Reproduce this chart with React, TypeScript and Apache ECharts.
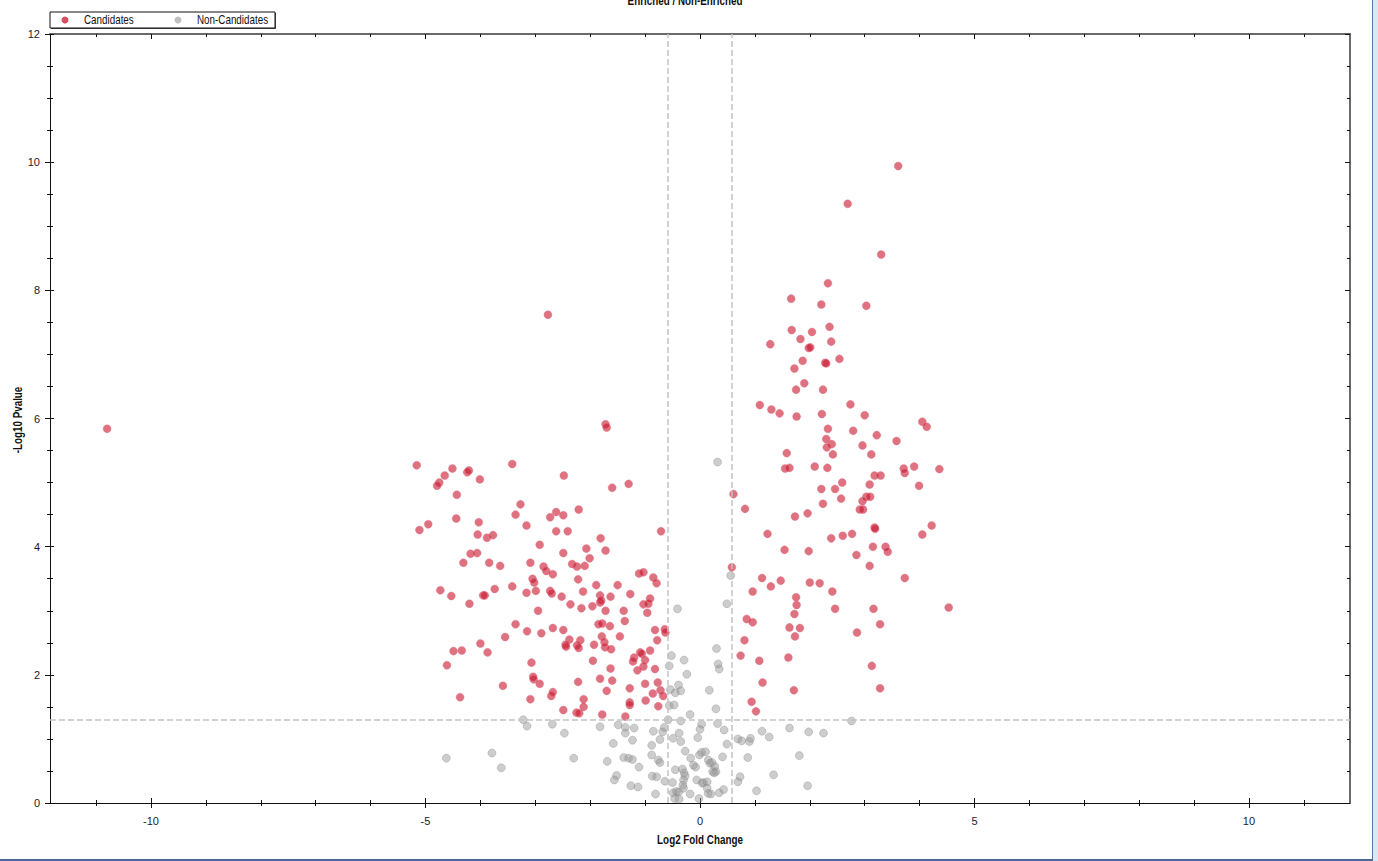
import React, { useEffect, useRef } from "react";
import * as echarts from "echarts";

// ---- data (Log2 fold change, -log10 p-value) ----
const candidates: [number, number][] = [
  [-10.8, 5.84], [-2.77, 7.62],
  [-1.72, 5.91], [-1.7, 5.86],
  [-5.16, 5.27], [-4.51, 5.22], [-4.65, 5.11], [-4.75, 5.0], [-4.79, 4.95], [-4.24, 5.16], [-4.21, 5.19], [-4.01, 5.05], [-4.43, 4.81], [-3.42, 5.29], [-2.48, 5.11], [-1.6, 4.92], [-1.3, 4.98],
  [-3.27, 4.66], [-3.36, 4.5], [-2.21, 4.58], [-2.62, 4.54], [-2.73, 4.46], [-2.49, 4.49], [-4.44, 4.44], [-4.95, 4.35], [-5.11, 4.26], [-4.03, 4.38], [-3.16, 4.33], [-4.05, 4.19], [-3.88, 4.14], [-3.77, 4.18], [-2.62, 4.24], [-2.41, 4.24], [-0.71, 4.24], [-1.81, 4.13], [-2.92, 4.03],
  [-4.18, 3.89], [-4.06, 3.9], [-2.49, 3.9], [-2.07, 3.97], [-1.72, 3.94], [-2.01, 3.82], [-4.31, 3.75], [-3.84, 3.75], [-3.64, 3.7], [-3.09, 3.75], [-2.85, 3.69], [-2.8, 3.62], [-2.68, 3.57], [-2.33, 3.73], [-2.24, 3.69], [-2.1, 3.7], [-2.22, 3.49], [-1.11, 3.58], [-1.03, 3.6], [-0.85, 3.52], [-0.79, 3.43],
  [-4.73, 3.32], [-4.53, 3.23], [-4.2, 3.11], [-3.95, 3.24], [-3.92, 3.24], [-3.74, 3.34], [-3.42, 3.38], [-3.16, 3.28], [-3.05, 3.5], [-3.02, 3.44], [-2.99, 3.31], [-2.73, 3.31], [-2.7, 3.27], [-2.52, 3.22], [-2.36, 3.1], [-2.13, 3.3], [-1.89, 3.4], [-1.82, 3.24], [-1.82, 3.13], [-1.8, 3.16], [-1.96, 3.07], [-2.16, 3.04], [-1.63, 3.22], [-1.5, 3.4], [-1.27, 3.26], [-1.03, 3.1], [-0.94, 3.11], [-0.91, 3.19], [-0.96, 2.97], [-1.39, 3.0], [-1.72, 3.0], [-2.95, 3.0],
  [-3.36, 2.79], [-3.15, 2.68], [-2.89, 2.65], [-2.68, 2.73], [-2.49, 2.7], [-2.38, 2.55], [-2.18, 2.54], [-2.45, 2.47], [-2.44, 2.44], [-2.24, 2.46], [-2.21, 2.42], [-1.93, 2.47], [-1.79, 2.6], [-1.74, 2.51], [-1.73, 2.43], [-1.85, 2.79], [-1.78, 2.8], [-1.64, 2.76], [-1.37, 2.84], [-1.46, 2.6], [-1.62, 2.4], [-0.82, 2.7], [-0.64, 2.71], [-0.63, 2.66], [-0.78, 2.54], [-0.91, 2.38], [-1.09, 2.35], [-1.06, 2.33], [-1.2, 2.27], [-1.22, 2.21], [-1.0, 2.23], [-1.03, 2.13], [-1.14, 2.07], [-0.82, 2.09],
  [-3.55, 2.59], [-4.0, 2.49], [-3.87, 2.35], [-4.49, 2.37], [-4.34, 2.38], [-4.61, 2.15], [-4.37, 1.65], [-3.59, 1.83], [-3.07, 2.19], [-3.04, 1.97], [-3.03, 1.93], [-2.92, 1.86], [-3.09, 1.62], [-2.71, 1.67], [-2.68, 1.73], [-2.49, 1.45], [-2.25, 1.41], [-2.2, 1.4], [-2.12, 1.62], [-2.12, 1.5], [-2.22, 1.89], [-1.82, 1.94], [-1.6, 1.91], [-1.7, 1.75], [-1.78, 1.38], [-1.36, 1.35], [-1.28, 1.57], [-1.28, 1.53], [-1.28, 1.79], [-1.63, 2.1], [-0.99, 1.6], [-1.0, 1.86], [-0.77, 1.88], [-0.72, 1.76], [-0.67, 1.67], [-0.86, 1.71], [-0.76, 1.51], [-1.95, 2.22],
  [3.61, 9.94], [2.69, 9.35], [3.3, 8.56], [2.33, 8.11], [1.66, 7.87], [2.21, 7.78], [3.03, 7.76], [1.67, 7.38], [2.04, 7.35], [2.36, 7.43], [1.83, 7.24], [2.39, 7.2], [1.28, 7.16], [1.98, 7.1], [2.01, 7.11], [1.87, 6.9], [2.28, 6.87], [2.3, 6.86], [2.54, 6.93], [1.72, 6.78], [1.9, 6.55], [1.75, 6.45], [2.24, 6.45], [1.09, 6.21], [1.3, 6.14], [1.45, 6.08], [1.76, 6.03], [2.22, 6.07], [2.74, 6.22], [3.0, 6.05],
  [2.33, 5.84], [2.79, 5.81], [2.3, 5.68], [2.4, 5.6], [2.31, 5.55], [2.42, 5.44], [3.22, 5.74], [2.96, 5.58], [3.12, 5.44], [3.58, 5.65], [4.05, 5.95], [4.13, 5.87], [1.58, 5.46], [1.55, 5.22], [1.63, 5.23], [2.09, 5.25], [2.32, 5.23], [3.18, 5.11], [3.29, 5.11], [3.71, 5.22], [3.73, 5.15], [3.9, 5.25], [4.36, 5.21], [3.99, 4.95], [2.59, 5.0], [3.09, 4.97], [2.21, 4.9], [2.46, 4.9], [2.57, 4.75], [3.03, 4.78], [3.1, 4.78], [2.96, 4.71], [2.91, 4.58], [2.97, 4.58], [2.24, 4.67], [1.96, 4.52], [1.73, 4.47], [0.61, 4.82], [0.82, 4.59],
  [3.18, 4.3], [3.19, 4.28], [4.22, 4.33], [4.05, 4.19], [1.23, 4.2], [2.39, 4.13], [2.6, 4.17], [2.77, 4.2], [1.54, 3.95], [1.98, 3.93], [3.15, 4.0], [3.38, 4.0], [3.42, 3.92], [2.85, 3.87], [3.09, 3.7], [0.58, 3.68], [1.13, 3.51], [1.47, 3.47], [1.29, 3.38], [0.96, 3.3], [2.0, 3.44], [2.18, 3.43], [2.41, 3.3], [3.73, 3.51], [1.75, 3.21], [1.76, 3.09], [1.72, 2.95], [2.46, 3.03], [3.16, 3.03], [4.53, 3.05],
  [0.85, 2.87], [0.96, 2.82], [1.63, 2.74], [1.82, 2.73], [1.73, 2.6], [3.28, 2.79], [2.86, 2.66], [0.81, 2.54], [0.74, 2.3], [1.08, 2.22], [1.61, 2.27], [3.13, 2.14], [1.14, 1.88], [1.71, 1.76], [3.28, 1.79], [0.94, 1.58], [1.02, 1.43],
];

const nonCandidates: [number, number][] = [
  [-3.22, 1.3], [-3.15, 1.2], [-2.69, 1.23], [-2.47, 1.09], [-4.62, 0.7], [-3.79, 0.78], [-3.62, 0.55], [-2.3, 0.7], [-1.82, 1.19], [-1.49, 1.22], [-1.36, 1.18], [-1.36, 1.09], [-1.2, 1.17], [-1.23, 0.98], [-1.58, 0.93], [-1.39, 0.71], [-1.3, 0.7], [-1.23, 0.68], [-1.69, 0.65], [-1.11, 0.56], [-1.52, 0.43], [-1.56, 0.36], [-1.26, 0.27], [-1.13, 0.25], [-0.87, 0.42], [-0.79, 0.41], [-0.81, 0.14], [-0.88, 0.75], [-0.88, 0.9], [-0.76, 0.67], [-0.73, 0.63], [-0.85, 1.12], [-0.73, 0.99], [-0.68, 1.11], [-0.65, 1.18], [-0.64, 0.34], [-0.58, 1.3],
  [-0.52, 2.3], [-0.56, 2.14], [-0.29, 2.23], [-0.24, 2.01], [-0.39, 1.84], [-0.54, 1.77], [-0.45, 1.72], [-0.35, 1.75], [-0.56, 1.52], [-0.47, 1.53], [-0.18, 1.38], [-0.35, 1.28], [-0.49, 1.01], [-0.35, 0.96], [-0.38, 1.09], [-0.27, 0.81], [-0.17, 0.7], [-0.12, 0.59], [-0.08, 0.56], [-0.45, 0.52], [-0.32, 0.53], [-0.29, 0.47], [-0.27, 0.42], [-0.3, 0.36], [-0.31, 0.28], [-0.5, 0.32], [-0.43, 0.18], [-0.49, 0.16], [-0.39, 0.17], [-0.46, 0.07], [-0.38, 0.06], [-0.3, 0.23], [-0.18, 0.14], [-0.02, 0.07], [-0.06, 0.36], [0.04, 0.31], [0.06, 0.32], [0.13, 0.33], [0.13, 0.23], [0.15, 0.15], [0.2, 0.14], [0.35, 0.16], [0.43, 0.21], [-0.01, 0.75], [0.03, 0.79], [0.1, 0.8], [-0.04, 1.02], [0.0, 1.15], [0.03, 1.23], [0.32, 1.24], [0.44, 1.14], [0.49, 0.92], [0.41, 0.72], [0.15, 0.67], [0.18, 0.62], [0.22, 0.63], [0.27, 0.57], [0.29, 0.49], [0.23, 0.49], [0.26, 0.47],
  [0.32, 5.32], [0.56, 3.55], [0.49, 3.11], [0.3, 2.41], [0.33, 2.17], [0.35, 2.09], [0.17, 1.76], [0.29, 1.47], [-0.41, 3.03],
  [0.69, 1.0], [0.76, 0.97], [0.9, 0.96], [0.92, 1.01], [1.13, 1.12], [1.26, 1.03], [1.63, 1.17], [1.98, 1.11], [2.25, 1.09], [0.87, 0.71], [1.34, 0.44], [1.81, 0.74], [0.73, 0.41], [0.69, 0.33], [1.03, 0.19], [1.96, 0.27], [2.76, 1.28],
];

const xRange = [-11.84, 11.84];
const yRange = [0, 12];
const xMajorTicks = [-10, -5, 0, 5, 10];
const xMinorTicks = [-11, -9, -8, -7, -6, -4, -3, -2, -1, 1, 2, 3, 4, 6, 7, 8, 9, 11];
const yMajorTicks = [0, 2, 4, 6, 8, 10, 12];
const yMinorTicks = [0.5, 1, 1.5, 2.5, 3, 3.5, 4.5, 5, 5.5, 6.5, 7, 7.5, 8.5, 9, 9.5, 10.5, 11, 11.5];
const foldThresholds = [-0.585, 0.585];
const pThreshold = 1.301;

const seriesNames = ["Candidates", "Non-Candidates"];
const titleText = "Enriched / Non-Enriched";
const xName = "Log2 Fold Change";
const yName = "-Log10 Pvalue";

const FONT = "'Liberation Sans',Arial,sans-serif";
const NARROW = 0.82;
const RED = "rgba(200,20,45,0.75)";
const GRAY = "rgba(150,150,150,0.6)";

function xAxisDef(position: string, ticks: number[], len: number, inside: boolean, main: boolean, line: any) {
  return {
    type: "value",
    gridIndex: 0,
    position,
    min: xRange[0],
    max: xRange[1],
    axisLine: line ? { show: true, onZero: false, lineStyle: line } : { show: false, onZero: false },
    axisTick: { show: true, inside, length: len, customValues: ticks, lineStyle: { color: "#111", width: 1 } },
    axisLabel: main
      ? { show: true, customValues: xMajorTicks, margin: 12, fontFamily: FONT, fontSize: 11, color: "#1a1a2e" }
      : { show: false },
    splitLine: { show: false },
  };
}

function yAxisDef(position: string, ticks: number[], len: number, inside: boolean, main: boolean, line: any) {
  return {
    type: "value",
    gridIndex: 0,
    position,
    min: yRange[0],
    max: yRange[1],
    axisLine: line ? { show: true, onZero: false, lineStyle: line } : { show: false, onZero: false },
    axisTick: { show: true, inside, length: len, customValues: ticks, lineStyle: { color: "#111", width: 1 } },
    axisLabel: main
      ? { show: true, customValues: yMajorTicks, margin: 10, fontFamily: FONT, fontSize: 11, color: "#1a1a2e" }
      : { show: false },
    splitLine: { show: false },
  };
}

export default function App() {
  const ref = useRef<HTMLDivElement>(null);
  useEffect(() => {
    if (!ref.current) return;
    const chart = echarts.init(ref.current, null, { renderer: "svg" });
    const darkLine = { color: "#111", width: 1 };
    const grayLine = { color: "#6a6a6a", width: 2 };
    const option: any = {
      animation: false,
      backgroundColor: "#fff",
      textStyle: { fontFamily: FONT },
      grid: { left: 50, right: 28, top: 34, bottom: 58, containLabel: false, outerBoundsMode: "none" },
      xAxis: [
        xAxisDef("bottom", xMajorTicks, 5, false, true, darkLine),
        xAxisDef("bottom", xMajorTicks, 5, true, false, null),
        xAxisDef("bottom", xMinorTicks, 3, false, false, null),
        xAxisDef("bottom", xMinorTicks, 3, true, false, null),
        xAxisDef("top", xMajorTicks, 5, true, false, grayLine),
        xAxisDef("top", xMinorTicks, 3, true, false, null),
      ],
      yAxis: [
        yAxisDef("left", yMajorTicks, 5, false, true, darkLine),
        yAxisDef("left", yMajorTicks, 4, true, false, null),
        yAxisDef("left", yMinorTicks, 3, false, false, null),
        yAxisDef("left", yMinorTicks, 3, true, false, null),
        yAxisDef("right", yMajorTicks, 5, true, false, grayLine),
        yAxisDef("right", yMinorTicks, 3, true, false, null),
      ],
      series: [
        {
          type: "scatter",
          name: "thresholds",
          xAxisIndex: 0,
          yAxisIndex: 0,
          data: [],
          z: 1,
          silent: true,
          markLine: {
            silent: true,
            symbol: ["none", "none"],
            label: { show: false },
            lineStyle: { color: "#c4c4c4", type: [6, 3], width: 1.5 },
            data: [
              ...foldThresholds.map((v) => ({ xAxis: v })),
              { yAxis: pThreshold },
            ],
          },
        },
        {
          type: "scatter",
          name: seriesNames[1],
          xAxisIndex: 0,
          yAxisIndex: 0,
          z: 2,
          symbolSize: 8,
          itemStyle: { color: GRAY, borderColor: "rgba(120,120,120,0.45)", borderWidth: 0.8 },
          data: nonCandidates,
        },
        {
          type: "scatter",
          name: seriesNames[0],
          xAxisIndex: 0,
          yAxisIndex: 0,
          z: 3,
          symbolSize: 8,
          itemStyle: { color: RED, borderColor: "rgba(225,110,130,0.6)", borderWidth: 0.8 },
          data: candidates,
        },
      ],
      graphic: [
        {
          type: "text",
          x: 685,
          y: 1,
          scaleX: NARROW,
          style: { text: titleText, font: `bold 12px ${FONT}`, align: "center", verticalAlign: "middle", fill: "#111" },
        },
        {
          type: "text",
          x: 700,
          y: 840,
          scaleX: NARROW,
          style: { text: xName, font: `bold 12px ${FONT}`, align: "center", verticalAlign: "middle", fill: "#111" },
        },
        {
          type: "text",
          x: 18,
          y: 420,
          rotation: Math.PI / 2,
          scaleX: NARROW,
          style: { text: yName, font: `bold 12px ${FONT}`, align: "center", verticalAlign: "middle", fill: "#111" },
        },
        { type: "rect", shape: { x: 51, y: 13, width: 225, height: 16 }, style: { fill: "#555" } },
        { type: "rect", shape: { x: 50, y: 12, width: 225, height: 16 }, style: { fill: "#fff", stroke: "#111", lineWidth: 1 } },
        { type: "circle", shape: { cx: 65, cy: 20, r: 3.5 }, style: { fill: RED } },
        { type: "text", x: 84, y: 20, scaleX: NARROW, style: { text: seriesNames[0], font: `12px ${FONT}`, verticalAlign: "middle", fill: "#111" } },
        { type: "circle", shape: { cx: 178, cy: 20, r: 3.5 }, style: { fill: GRAY } },
        { type: "text", x: 197, y: 20, scaleX: NARROW, style: { text: seriesNames[1], font: `12px ${FONT}`, verticalAlign: "middle", fill: "#111" } },
        { type: "rect", shape: { x: 1373, y: 0, width: 5, height: 861 }, style: { fill: "#dde7f4" } },
        { type: "rect", shape: { x: 1372, y: 0, width: 1, height: 861 }, style: { fill: "#5a78a8" } },
        { type: "rect", shape: { x: 0, y: 859, width: 1373, height: 2 }, style: { fill: "#4a6898" } },
      ],
    };
    chart.setOption(option);
    return () => chart.dispose();
  }, []);
  return (
    <div
      ref={ref}
      style={{ position: "absolute", left: 0, top: 0, width: 1378, height: 861, background: "#fff" }}
    />
  );
}
